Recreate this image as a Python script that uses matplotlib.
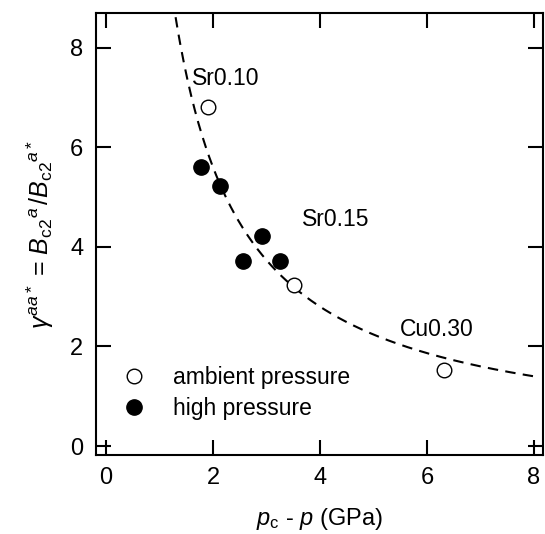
import numpy as np
import matplotlib
matplotlib.use("Agg")
import matplotlib.pyplot as plt

plt.rcParams['font.family'] = ['Liberation Sans', 'DejaVu Sans']
plt.rcParams['mathtext.fontset'] = 'custom'
plt.rcParams['mathtext.rm'] = 'Liberation Sans'
plt.rcParams['mathtext.it'] = 'Liberation Sans:italic'
plt.rcParams['mathtext.bf'] = 'Liberation Sans:bold'

# Data
ambient_x = [1.91, 3.51, 6.32]
ambient_y = [6.81, 3.23, 1.53]
high_x = [1.78, 2.13, 2.56, 2.92, 3.25]
high_y = [5.60, 5.22, 3.71, 4.21, 3.71]
fit_coef = 11.2          # gamma = fit_coef / (pc - p)
fit_range = [1.3, 8.02]
labels = ["Sr0.10", "Sr0.15", "Cu0.30"]
label_x = [1.61, 3.66, 5.50]
label_y = [7.38, 4.56, 2.34]
xticks = [0, 2, 4, 6, 8]
yticks = [0, 2, 4, 6, 8]

fig = plt.figure(figsize=(5.45, 5.34), dpi=100)
ax = fig.add_axes([0.176, 0.148, 0.8203, 0.8277])

xf = np.linspace(fit_range[0], fit_range[1], 300)
ax.plot(xf, fit_coef / xf, ls=(0, (5, 3.5)), color='black', lw=1.5, zorder=1)

ax.plot(ambient_x, ambient_y, 'o', mfc='white', mec='black', mew=1.0, ms=10.5,
        ls='none', zorder=3, label='ambient pressure')
ax.plot(high_x, high_y, 'o', mfc='black', mec='black', ms=11,
        ls='none', zorder=3, label='high pressure')

for t, x, y in zip(labels, label_x, label_y):
    ax.text(x, y, t, fontsize=16.5, ha='left', va='center')

ax.set_xlim(-0.19, 8.17)
ax.set_ylim(-0.18, 8.7)
ax.set_xticks(xticks)
ax.set_yticks(yticks)
ax.tick_params(direction='in', length=10.5, width=1.5, top=True, right=True,
               labelsize=17, pad=9)
for s in ax.spines.values():
    s.set_linewidth(1.5)

ax.set_xlabel(r'$p_{\mathrm{c}}$ - $p$ (GPa)', fontsize=17, labelpad=12)
ax.set_ylabel(r'$\gamma^{aa*}$ = ${B_{\mathrm{c2}}}^{a}\,/{B_{\mathrm{c2}}}^{a*}$',
              fontsize=18, labelpad=10)

leg = ax.legend(loc='lower left', bbox_to_anchor=(0.035, 0.058), frameon=False,
                fontsize=16.5, handletextpad=1.1, labelspacing=0.35,
                handlelength=1.2, borderaxespad=0)

fig.savefig('out.png', dpi=100)
